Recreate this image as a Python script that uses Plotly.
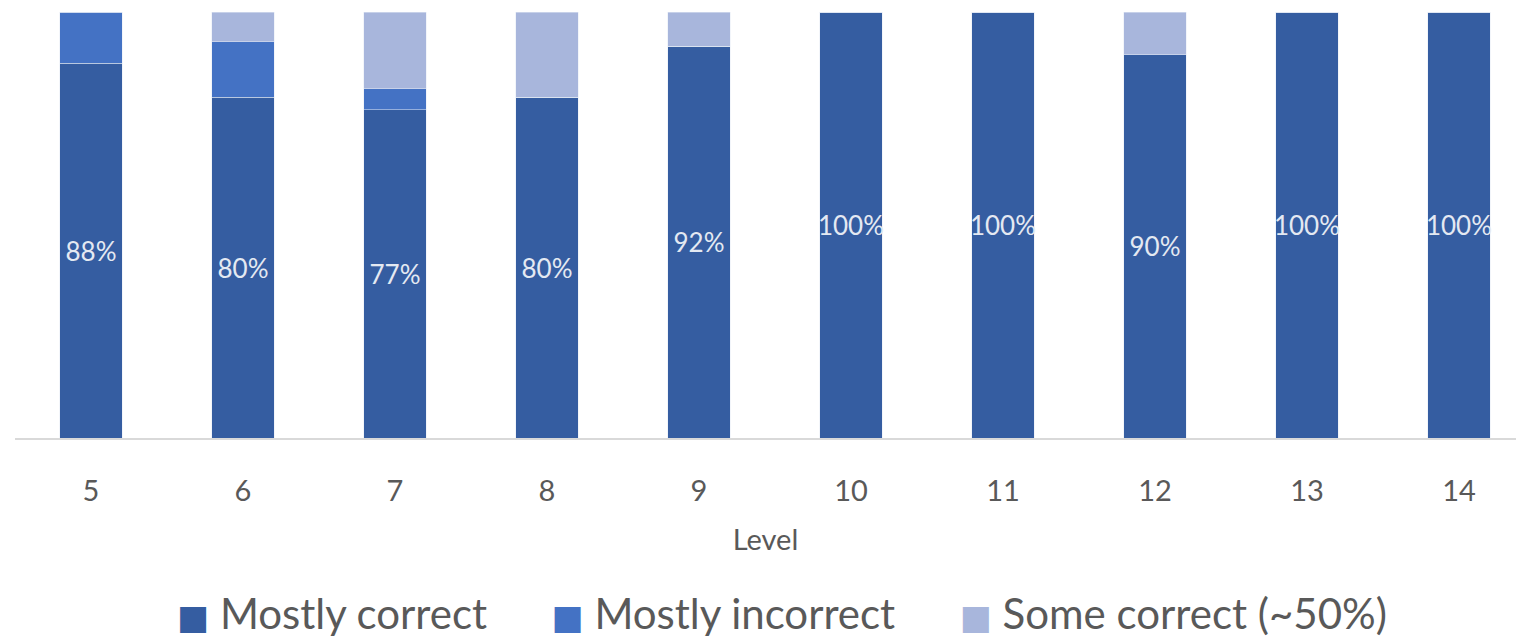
import plotly.graph_objects as go

levels = ["5", "6", "7", "8", "9", "10", "11", "12", "13", "14"]
mostly_correct = [88, 80, 77, 80, 92, 100, 100, 90, 100, 100]
mostly_incorrect = [12, 13, 5, 0, 0, 0, 0, 0, 0, 0]
some_correct = [0, 7, 18, 20, 8, 0, 0, 10, 0, 0]
labels_correct = [f"{v}%" for v in mostly_correct]

series_names = ["Mostly correct", "Mostly incorrect", "Some correct (~50%)"]
colors = ["#355DA1", "#4472C4", "#A8B6DC"]

FONT = "Lato, 'Open Sans', sans-serif"

fig = go.Figure()
fig.add_trace(go.Bar(
    x=levels, y=mostly_correct, name=series_names[0], marker_color=colors[0],
    text=labels_correct, textposition="inside", insidetextanchor="middle",
    textangle=0, constraintext="none",
    textfont=dict(family=FONT, size=26, color="#E4E9F2"),
    showlegend=False,
))
fig.add_trace(go.Bar(x=levels, y=mostly_incorrect, name=series_names[1],
                     marker_color=colors[1], showlegend=False))
fig.add_trace(go.Bar(x=levels, y=some_correct, name=series_names[2],
                     marker_color=colors[2], showlegend=False))

# legend drawn as one text line with coloured square glyphs
gap = "&nbsp;" * 6
legend_text = gap.join(
    f'<span style="color:{c};font-family:\'DejaVu Sans\';font-size:34px">■</span>&nbsp;{n}'
    for n, c in zip(series_names, colors)
)
fig.add_annotation(
    text=legend_text, xref="paper", yref="paper", x=0.5107, y=-0.411,
    xanchor="center", yanchor="middle", showarrow=False,
    font=dict(family=FONT, size=42, color="#595959"),
)

fig.update_layout(
    barmode="stack",
    bargap=0.59,
    width=1516, height=639,
    margin=dict(l=15, r=0, t=12, b=201),
    paper_bgcolor="white", plot_bgcolor="white",
    font=dict(family=FONT, color="#595959"),
    showlegend=False,
    xaxis=dict(type="category", range=[-0.5, 9.375], showgrid=False,
               showline=True, linecolor="#D9D9D9", linewidth=2,
               ticks="", ticklabelstandoff=26,
               tickfont=dict(size=29, color="#595959"),
               title=dict(text="Level", font=dict(size=29, color="#595959"), standoff=24)),
    yaxis=dict(range=[0, 100], visible=False),
)

fig.write_html("out.html")
